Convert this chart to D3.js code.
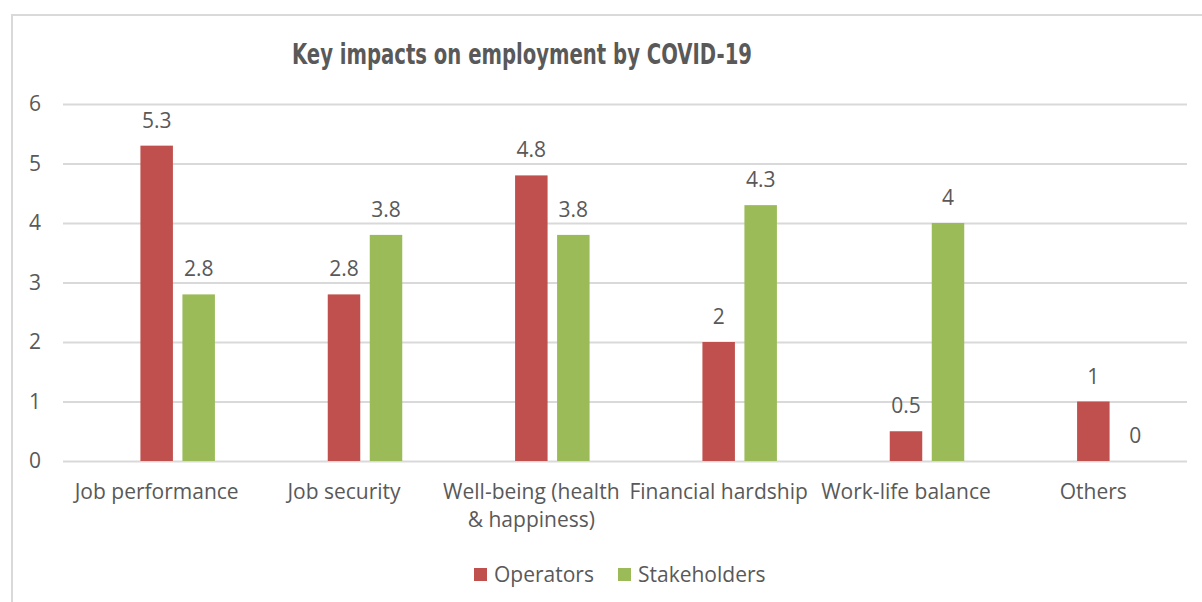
<!DOCTYPE html>
<html>
<head>
<meta charset="utf-8">
<script src="https://cdn.jsdelivr.net/npm/d3@7"></script>
<style>
  body { margin: 0; background: #fff; }
  text { font-family: "Open Sans", sans-serif; fill: #595959; }
</style>
</head>
<body>
<script>
// chart data
const categories = ["Job performance", "Job security", "Well-being (health & happiness)",
                    "Financial hardship", "Work-life balance", "Others"];
const seriesNames = ["Operators", "Stakeholders"];
const operators = [5.3, 2.8, 4.8, 2, 0.5, 1];
const stakeholders = [2.8, 3.8, 3.8, 4.3, 4, 0];
const yTicks = [0, 1, 2, 3, 4, 5, 6];
const colors = ["#C0504D", "#9BBB59"];

const w = 1202, h = 602;
const padL = 63, padR = 1187, padT = 104, padB = 461;
const barW = 32.5, gap = 9.5;
const fs = "21px";

const svg = d3.select("body").append("svg")
   .attr("width", w).attr("height", h);

// chart border
svg.append("rect")
   .attr("x", 12).attr("y", 15)
   .attr("width", w + 20).attr("height", h + 20)
   .attr("fill", "none").attr("stroke", "#d9d9d9").attr("stroke-width", 2);

svg.append("text")
   .attr("x", 522).attr("y", 64)
   .attr("text-anchor", "middle")
   .attr("textLength", 460)
   .attr("lengthAdjust", "spacingAndGlyphs")
   .style("font-family", "'Liberation Sans Narrow', 'DejaVu Sans Condensed', sans-serif")
   .style("font-weight", "bold")
   .style("font-size", "28px")
   .text("Key impacts on employment by COVID-19");

const x0 = d3.scaleBand().domain(categories).range([padL, padR]);
// red bar sits centered in the band, green to its right
const x1 = d3.scaleBand().domain(seriesNames)
   .range([-barW / 2, barW * 1.5 + gap]).paddingInner(gap / (barW + gap));

const yScale = d3.scaleLinear().domain([0, 6]).range([padB, padT]);

// gridlines + y labels
const yAxis = d3.axisLeft(yScale).tickValues(yTicks).tickFormat(d3.format("d"))
   .tickSize(-(padR - padL)).tickPadding(22);
const gy = svg.append("g")
   .attr("transform", "translate(" + padL + ",0)")
   .call(yAxis);
gy.select(".domain").remove();
gy.selectAll("line").attr("stroke", "#d9d9d9").attr("stroke-width", 2);
gy.selectAll("text").style("font-size", fs).style("font-family", "'Open Sans', sans-serif").attr("fill", "#595959");

// x labels (wrapped)
const wrap = {"Well-being (health & happiness)": ["Well-being (health", "& happiness)"]};
const xl = svg.append("g");
categories.forEach(function(c) {
   const lines = wrap[c] || [c];
   const t = xl.append("text")
      .attr("text-anchor", "middle")
      .attr("x", x0(c) + x0.bandwidth() / 2)
      .attr("y", 499)
      .style("font-size", fs);
   lines.forEach(function(l, i) {
      t.append("tspan")
         .attr("x", x0(c) + x0.bandwidth() / 2)
         .attr("dy", i == 0 ? 0 : 28)
         .text(l);
   });
});

// bars
const data = [];
for (let i = 0; i < categories.length; i++) {
   data.push({cat: categories[i], s: 0, v: operators[i]});
   data.push({cat: categories[i], s: 1, v: stakeholders[i]});
}

const bx = (d) => x0(d.cat) + x0.bandwidth() / 2 + x1(seriesNames[d.s]);

svg.selectAll("rect.bar")
   .data(data)
   .enter()
   .append("rect")
   .attr("class", "bar")
   .attr("x", bx)
   .attr("y", (d) => yScale(d.v))
   .attr("width", x1.bandwidth())
   .attr("height", (d) => padB - yScale(d.v))
   .attr("fill", (d) => colors[d.s]);

svg.selectAll("text.lbl")
   .data(data)
   .enter()
   .append("text")
   .attr("class", "lbl")
   .attr("text-anchor", "middle")
   .attr("x", (d) => bx(d) + x1.bandwidth() / 2)
   .attr("y", (d) => yScale(d.v) - 18)
   .style("font-size", fs)
   .text((d) => d.v);

// legend
const legX = [474, 618];
seriesNames.forEach(function(s, i) {
   svg.append("rect")
      .attr("x", legX[i]).attr("y", 568)
      .attr("width", 13).attr("height", 13)
      .attr("fill", colors[i]);
   svg.append("text")
      .attr("x", legX[i] + 20).attr("y", 582)
      .style("font-size", fs)
      .text(s);
});
</script>
</body>
</html>
